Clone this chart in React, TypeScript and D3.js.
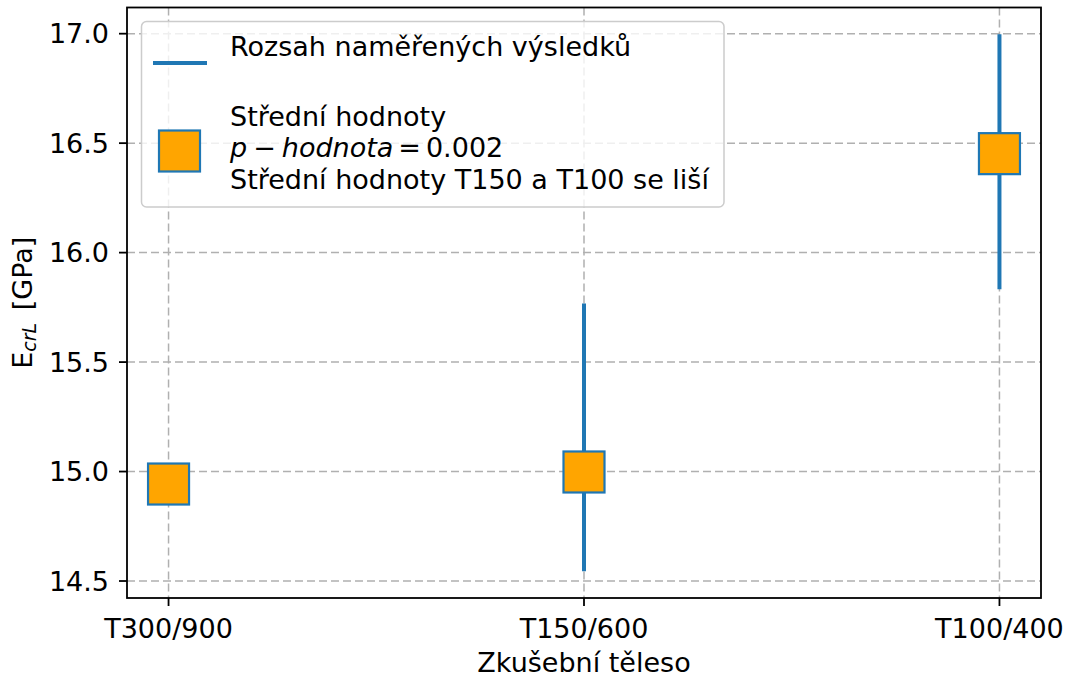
import React from "react";
import * as d3 from "d3";

const categories = ["T300/900", "T150/600", "T100/400"];
const meanValues = [14.943, 14.998, 16.452];
const rangeMin = [null, 14.545, 15.833];
const rangeMax = [null, 15.768, 16.997];
const yTicks = [14.5, 15.0, 15.5, 16.0, 16.5, 17.0];

const W = 1068;
const H = 679;
const L = 127, R = 1041, T = 7.5, B = 598;
const FONT = "DejaVu Sans, Liberation Sans, sans-serif";
const FS = 27;

export default function App() {
  const idx = categories.map((_, i) => i);
  const x = d3.scaleLinear().domain([-0.1, 2.1]).range([L, R]);
  const allVals = [...meanValues, ...(rangeMin.filter((v) => v != null) as number[]), ...(rangeMax.filter((v) => v != null) as number[])];
  const [lo, hi] = d3.extent(allVals) as [number, number];
  const m = (hi - lo) * 0.05;
  const y = d3.scaleLinear().domain([lo - m, hi + m]).range([B, T]);
  const ms = 41;
  const gridStyle = { stroke: "#b0b0b0", strokeWidth: 1.5, strokeDasharray: "8,4" };
  return (
    <svg width={W} height={H} style={{ position: "absolute", left: 0, top: 0, background: "#fff" }} fontFamily={FONT}>
      <rect x={0} y={0} width={W} height={H} fill="#fff" />
      {/* grid */}
      {yTicks.map((t) => (
        <line key={"gy" + t} x1={L} x2={R} y1={y(t)} y2={y(t)} {...gridStyle} />
      ))}
      {idx.map((i) => (
        <line key={"gx" + i} x1={x(i)} x2={x(i)} y1={T} y2={B} {...gridStyle} />
      ))}
      {/* ranges */}
      {idx.map((i) =>
        rangeMin[i] != null ? (
          <line key={"r" + i} x1={x(i)} x2={x(i)} y1={y(rangeMin[i] as number)} y2={y(rangeMax[i] as number)} stroke="#1f77b4" strokeWidth={4} />
        ) : null
      )}
      {/* means */}
      {idx.map((i) => (
        <rect key={"m" + i} x={x(i) - ms / 2} y={y(meanValues[i]) - ms / 2} width={ms} height={ms} fill="#ffa500" stroke="#1f77b4" strokeWidth={2.2} />
      ))}
      {/* spines */}
      <rect x={L} y={T} width={R - L} height={B - T} fill="none" stroke="#000" strokeWidth={1.8} />
      {/* y ticks */}
      {yTicks.map((t) => (
        <g key={"yt" + t}>
          <line x1={L - 8} x2={L} y1={y(t)} y2={y(t)} stroke="#000" strokeWidth={1.8} />
          <text x={L - 18} y={y(t)} dy="0.36em" textAnchor="end" fontSize={FS} fill="#000">
            {t.toFixed(1)}
          </text>
        </g>
      ))}
      {/* x ticks */}
      {idx.map((i) => (
        <g key={"xt" + i}>
          <line x1={x(i)} x2={x(i)} y1={B} y2={B + 8} stroke="#000" strokeWidth={1.8} />
          <text x={x(i)} y={B + 40} textAnchor="middle" fontSize={FS} fill="#000">
            {categories[i]}
          </text>
        </g>
      ))}
      {/* axis labels */}
      <text x={(L + R) / 2} y={672} textAnchor="middle" fontSize={FS} fill="#000">
        Zkušební těleso
      </text>
      <text transform={`translate(32, ${(T + B) / 2}) rotate(-90)`} textAnchor="middle" fontSize={FS} fill="#000">
        E
        <tspan fontSize={19} fontStyle="italic" dy={4}>crL</tspan>
        <tspan dy={-4} dx={4}>{"\u00a0[GPa]"}</tspan>
      </text>
      {/* legend */}
      <rect x={141.5} y={21.5} width={582.5} height={185.5} rx={5} fill="#fff" fillOpacity={0.8} stroke="#cccccc" strokeWidth={1.5} />
      <line x1={153} x2={207} y1={63} y2={63} stroke="#1f77b4" strokeWidth={4} />
      <text x={230} y={55.5} fontSize={FS} fill="#000">Rozsah naměřených výsledků</text>
      <rect x={159} y={130.5} width={41} height={41} fill="#ffa500" stroke="#1f77b4" strokeWidth={2.2} />
      <text x={230} y={125.5} fontSize={FS} fill="#000">Střední hodnoty</text>
      <text x={230} y={157} fontSize={FS} fill="#000">
        <tspan fontStyle="italic">p</tspan>
        <tspan dx={6}>−</tspan>
        <tspan dx={6} fontStyle="italic">hodnota</tspan>
        <tspan dx={5}>=</tspan>
        <tspan dx={5}>0.002</tspan>
      </text>
      <text x={230} y={189} fontSize={FS} fill="#000">Střední hodnoty T150 a T100 se liší</text>
    </svg>
  );
}
